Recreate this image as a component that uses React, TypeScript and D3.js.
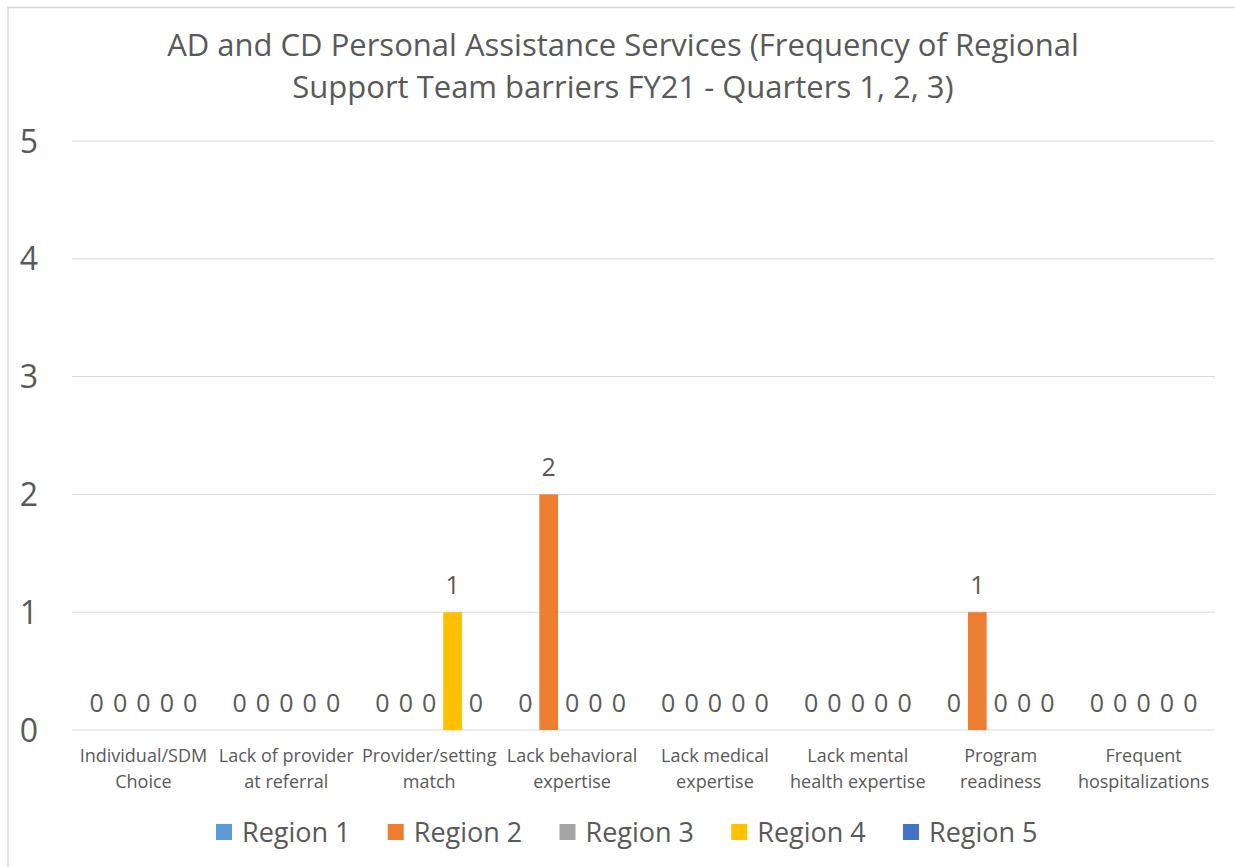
import React from "react";
import * as d3 from "d3";

const title = [
  "AD and CD Personal Assistance Services (Frequency of Regional",
  "Support Team barriers FY21 - Quarters 1, 2, 3)",
];
const categories = [
  ["Individual/SDM", "Choice"],
  ["Lack of provider", "at referral"],
  ["Provider/setting", "match"],
  ["Lack behavioral", "expertise"],
  ["Lack medical", "expertise"],
  ["Lack mental", "health expertise"],
  ["Program", "readiness"],
  ["Frequent", "hospitalizations"],
];
const seriesNames = ["Region 1", "Region 2", "Region 3", "Region 4", "Region 5"];
const seriesColors = ["#5B9BD5", "#ED7D31", "#A5A5A5", "#FFC000", "#4472C4"];
const region1 = [0, 0, 0, 0, 0, 0, 0, 0];
const region2 = [0, 0, 0, 2, 0, 0, 1, 0];
const region3 = [0, 0, 0, 0, 0, 0, 0, 0];
const region4 = [0, 0, 1, 0, 0, 0, 0, 0];
const region5 = [0, 0, 0, 0, 0, 0, 0, 0];
const seriesValues = [region1, region2, region3, region4, region5];
const yTicks = [0, 1, 2, 3, 4, 5];

const FONT = "'Open Sans', sans-serif";
const TXT = "#595959";

export default function App() {
  const W = 1235, H = 867;
  const left = 72, right = 1215, top = 141, bottom = 730;
  const catKeys = categories.map((_, i) => String(i));
  const x0 = d3.scaleBand().domain(catKeys).range([left, right]).paddingInner(0.215).paddingOuter(0.1075);
  const x1 = d3.scaleBand().domain(seriesNames).range([0, x0.bandwidth()]).paddingInner(0.2);
  const y = d3.scaleLinear().domain([0, 5]).range([bottom, top]);
  const legend = d3.scaleLinear().domain([0, 4]).range([216, 903]);

  return (
    <svg width={W} height={H} style={{ position: "absolute", left: 0, top: 0, background: "#fff" }} fontFamily={FONT}>
      <rect x={0} y={0} width={W} height={H} fill="#fff" />
      <rect x={8} y={7.5} width={W + 10} height={H + 10} fill="none" stroke="#d9d9d9" strokeWidth={1.5} />
      {title.map((t, i) => (
        <text key={i} x={623} y={56 + i * 42} textAnchor="middle" fontSize={31} fill={TXT}>{t}</text>
      ))}
      {yTicks.map((t) => (
        <g key={t}>
          <line x1={left} x2={right} y1={y(t)} y2={y(t)} stroke="#d9d9d9" strokeWidth={1} />
          <text x={29} y={y(t)} dy="0.36em" textAnchor="middle" fontSize={32} fill={TXT}>{t}</text>
        </g>
      ))}
      {categories.map((c, ci) => {
        const cx = (x0(String(ci)) as number);
        const center = cx + x0.bandwidth() / 2;
        return (
          <g key={ci}>
            {seriesNames.map((s, si) => {
              const v = seriesValues[si][ci];
              const bx = cx + (x1(s) as number);
              return (
                <g key={s}>
                  <rect x={bx} y={y(v)} width={x1.bandwidth()} height={y(0) - y(v)} fill={seriesColors[si]} />
                  <text x={bx + x1.bandwidth() / 2} y={y(v) - 18} textAnchor="middle" fontSize={25} fill={TXT}>{v}</text>
                </g>
              );
            })}
            {c.map((line, li) => (
              <text key={li} x={center} y={762 + li * 26} textAnchor="middle" fontSize={18} fill={TXT}>{line}</text>
            ))}
          </g>
        );
      })}
      {seriesNames.map((s, si) => (
        <g key={s}>
          <rect x={legend(si)} y={824} width={16} height={16} fill={seriesColors[si]} />
          <text x={legend(si) + 26} y={842} fontSize={27} fill={TXT}>{s}</text>
        </g>
      ))}
    </svg>
  );
}
